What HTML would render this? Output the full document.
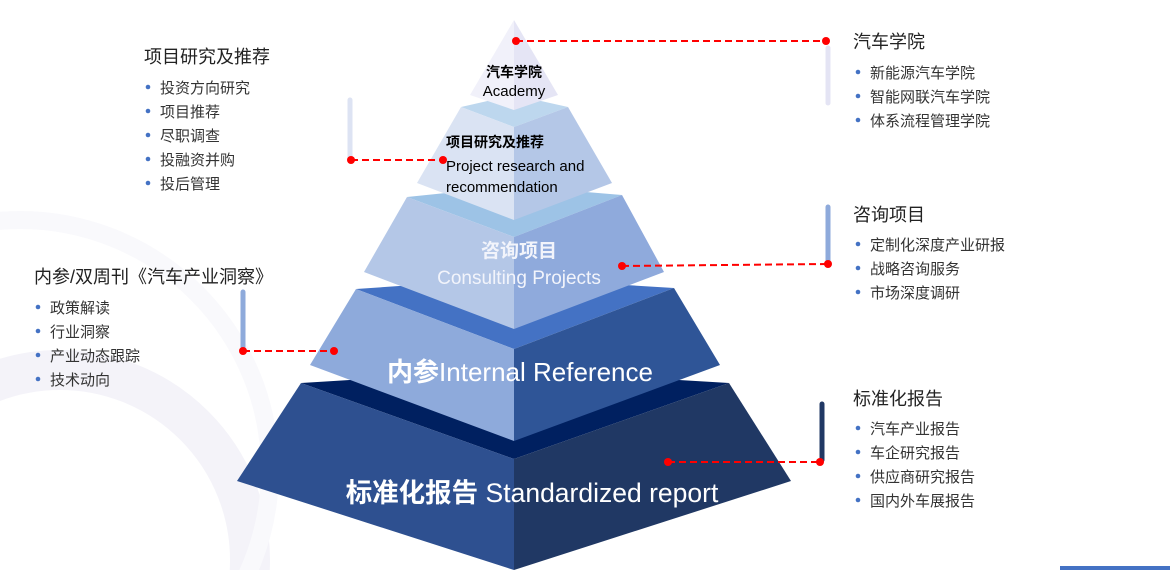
<!DOCTYPE html>
<html><head><meta charset="utf-8"><style>
html,body{margin:0;padding:0;background:#fff;width:1170px;height:570px;overflow:hidden;}
svg{display:block;}
text{font-family:"Liberation Sans","Noto Sans CJK SC",sans-serif;}
</style></head><body>
<svg width="1170" height="570" viewBox="0 0 1170 570" xmlns="http://www.w3.org/2000/svg">
<!-- background ring -->
<circle cx="60" cy="560" r="190" fill="none" stroke="#f4f3f9" stroke-width="40"/>
<circle cx="20" cy="470" r="250" fill="none" stroke="#f9f9fc" stroke-width="18"/>
<rect x="1060" y="566" width="110" height="4" fill="#4472c4"/>

<!-- Tier 5 -->
<polygon points="301,383 514,370 729,383 514,459" fill="#002060"/>
<polygon points="301,383 514,459 514,570 237,481" fill="#2e5090"/>
<polygon points="729,383 514,459 514,570 791,481" fill="#203864"/>
<!-- Tier 4 -->
<polygon points="356,289 514,278 674,288 514,349" fill="#4472c4"/>
<polygon points="356,289 514,349 514,441 310,365" fill="#8eaadb"/>
<polygon points="674,288 514,349 514,441 720,365" fill="#2f5597"/>
<!-- Tier 3 -->
<polygon points="407,197 514,186 622,195 514,237" fill="#9dc3e6"/>
<polygon points="407,197 514,237 514,329 364,272" fill="#b4c7e7"/>
<polygon points="622,195 514,237 514,329 664,272" fill="#8faadc"/>
<!-- Tier 2 -->
<polygon points="461,107 514,95 568,107 514,127" fill="#bdd7ee"/>
<polygon points="461,107 514,127 514,220 417,183" fill="#dae3f3"/>
<polygon points="568,107 514,127 514,220 612,183" fill="#b4c7e7"/>
<!-- Tier 1 -->
<polygon points="514,20 514,110 470,95" fill="#f1f1fa"/>
<polygon points="514,20 514,110 558,95" fill="#e5e5f5"/>

<!-- pyramid text -->
<text x="514" y="77" font-size="14" text-anchor="middle" fill="#000" font-weight="bold">汽车学院</text>
<text x="514" y="96" font-size="15" text-anchor="middle" fill="#000">Academy</text>
<text x="446" y="147" font-size="14" fill="#000" font-weight="bold">项目研究及推荐</text>
<text x="446" y="171" font-size="15" fill="#000">Project research and</text>
<text x="446" y="192" font-size="15" fill="#000">recommendation</text>
<text x="519" y="257" font-size="19" text-anchor="middle" fill="#f2f4fb" font-weight="bold">咨询项目</text>
<text x="519" y="284" font-size="19" text-anchor="middle" fill="#f2f4fb">Consulting Projects</text>
<text x="520" y="381" font-size="26" text-anchor="middle" fill="#fff"><tspan font-weight="bold">内参</tspan>Internal Reference</text>
<text x="532" y="502" font-size="26.5" text-anchor="middle" fill="#fff"><tspan font-weight="bold">标准化报告</tspan> Standardized report</text>

<!-- bars -->
<g stroke-linecap="round" stroke-width="5">
<line x1="828" y1="48" x2="828" y2="103" stroke="#e4e4f4"/>
<line x1="350" y1="100" x2="350" y2="158" stroke="#dde3f3"/>
<line x1="828" y1="207" x2="828" y2="262" stroke="#8eaadb"/>
<line x1="243" y1="292" x2="243" y2="349" stroke="#8eaadb"/>
<line x1="822" y1="404" x2="822" y2="460" stroke="#203864"/>
</g>
<!-- red connectors -->
<g stroke="#ff0000" stroke-width="2" stroke-dasharray="7,4" fill="none">
<line x1="516" y1="41" x2="826" y2="41"/>
<line x1="351" y1="160" x2="443" y2="160"/>
<line x1="622" y1="266" x2="828" y2="264"/>
<line x1="243" y1="351" x2="334" y2="351"/>
<line x1="668" y1="462" x2="820" y2="462"/>
</g>
<g fill="#ff0000">
<circle cx="516" cy="41" r="4"/><circle cx="826" cy="41" r="4"/>
<circle cx="351" cy="160" r="4"/><circle cx="443" cy="160" r="4"/>
<circle cx="622" cy="266" r="4"/><circle cx="828" cy="264" r="4"/>
<circle cx="243" cy="351" r="4"/><circle cx="334" cy="351" r="4"/>
<circle cx="668" cy="462" r="4"/><circle cx="820" cy="462" r="4"/>
</g>

<!-- side text blocks -->
<g font-size="18" fill="#222">
<text x="144" y="63">项目研究及推荐</text>
<text x="853" y="48">汽车学院</text>
<text x="853" y="221">咨询项目</text>
<text x="34" y="283">内参/双周刊《汽车产业洞察》</text>
<text x="853" y="405">标准化报告</text>
</g>
<g font-size="15" fill="#333">
<text x="160" y="93">投资方向研究</text>
<text x="160" y="117">项目推荐</text>
<text x="160" y="141">尽职调查</text>
<text x="160" y="165">投融资并购</text>
<text x="160" y="189">投后管理</text>
<text x="870" y="78">新能源汽车学院</text>
<text x="870" y="102">智能网联汽车学院</text>
<text x="870" y="126">体系流程管理学院</text>
<text x="870" y="250">定制化深度产业研报</text>
<text x="870" y="274">战略咨询服务</text>
<text x="870" y="298">市场深度调研</text>
<text x="50" y="313">政策解读</text>
<text x="50" y="337">行业洞察</text>
<text x="50" y="361">产业动态跟踪</text>
<text x="50" y="385">技术动向</text>
<text x="870" y="434">汽车产业报告</text>
<text x="870" y="458">车企研究报告</text>
<text x="870" y="482">供应商研究报告</text>
<text x="870" y="506">国内外车展报告</text>
</g>
<g fill="#4472c4">
<circle cx="148" cy="87" r="2.3"/><circle cx="148" cy="111" r="2.3"/><circle cx="148" cy="135" r="2.3"/><circle cx="148" cy="159" r="2.3"/><circle cx="148" cy="183" r="2.3"/>
<circle cx="858" cy="72" r="2.3"/><circle cx="858" cy="96" r="2.3"/><circle cx="858" cy="120" r="2.3"/>
<circle cx="858" cy="244" r="2.3"/><circle cx="858" cy="268" r="2.3"/><circle cx="858" cy="292" r="2.3"/>
<circle cx="38" cy="307" r="2.3"/><circle cx="38" cy="331" r="2.3"/><circle cx="38" cy="355" r="2.3"/><circle cx="38" cy="379" r="2.3"/>
<circle cx="858" cy="428" r="2.3"/><circle cx="858" cy="452" r="2.3"/><circle cx="858" cy="476" r="2.3"/><circle cx="858" cy="500" r="2.3"/>
</g>
</svg>
</body></html>
